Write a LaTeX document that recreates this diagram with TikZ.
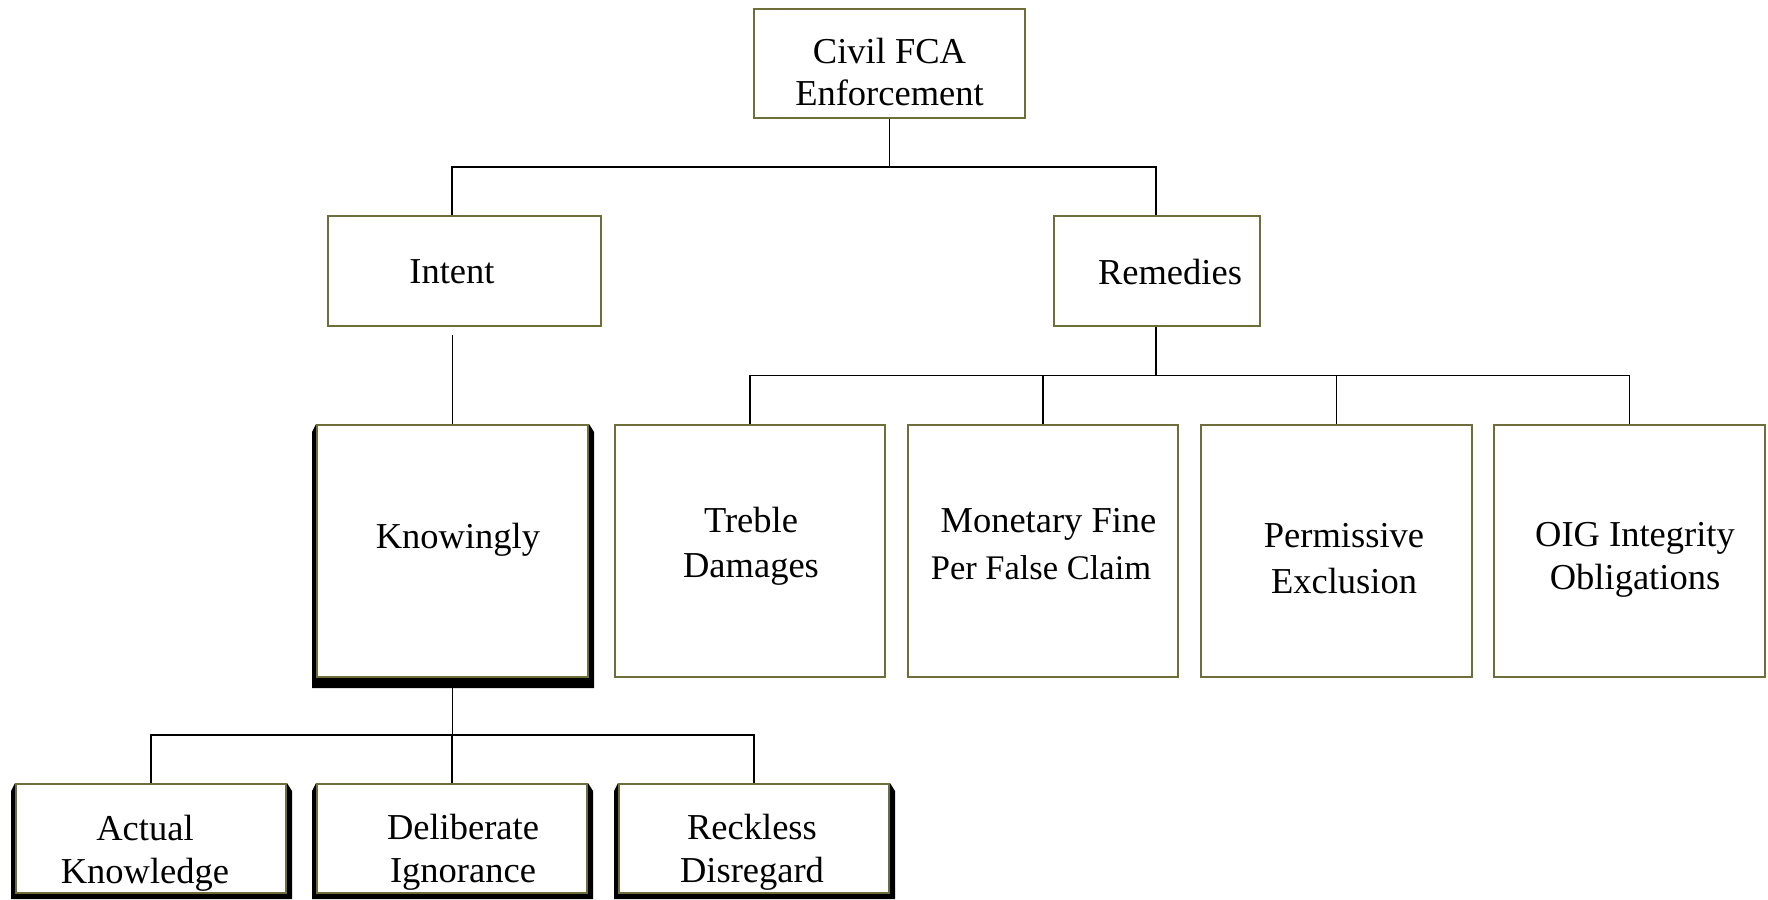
\documentclass[tikz,border=0pt]{standalone}
\usepackage{fontspec}
\setmainfont{Liberation Serif}
\usetikzlibrary{backgrounds}
\definecolor{olivebd}{RGB}{110,110,58}
\newcommand\boxshadow[2]{%
  \fill[black] ([xshift=-4pt,yshift=-8pt]#1.north west) -- (#1.north west) -- (#1.north east)
    -- ([xshift=5pt,yshift=-8pt]#1.north east) -- ([xshift=5pt,yshift=-#2]#1.south east)
    -- ([xshift=-4pt,yshift=-#2]#1.south west) -- cycle;}
\tikzset{
  box/.style={draw=olivebd, line width=2pt, fill=white, inner sep=0pt, rectangle},
  txt/.style={align=center, inner sep=0pt, font=\fontsize{36.5}{43}\selectfont},
  conn/.style={draw=black, line width=1.8pt},
}
\begin{document}
\begin{tikzpicture}[x=1pt,y=-1pt]
\useasboundingbox (0,0) rectangle (1768,899);
% boxes
\node[box, minimum width=271pt, minimum height=109pt] (top) at (889.5,63.5) {};
\node[box, minimum width=273pt, minimum height=110pt] (intent) at (464.5,271) {};
\node[box, minimum width=206pt, minimum height=110pt] (remedies) at (1156.5,271) {};
\node[box, minimum width=271pt, minimum height=252pt] (kn) at (452.5,551) {};
\node[box, minimum width=270pt, minimum height=252pt] (tr) at (750,551) {};
\node[box, minimum width=270pt, minimum height=252pt] (mon) at (1043,551) {};
\node[box, minimum width=271pt, minimum height=252pt] (per) at (1336.5,551) {};
\node[box, minimum width=271pt, minimum height=252pt] (oig) at (1629.5,551) {};
\node[box, minimum width=270pt, minimum height=109pt] (act) at (151,838.5) {};
\node[box, minimum width=270pt, minimum height=109pt] (del) at (452,838.5) {};
\node[box, minimum width=270pt, minimum height=109pt] (rec) at (754,838.5) {};
% shadows
\begin{scope}[on background layer]
  \boxshadow{kn}{10pt}
  \boxshadow{act}{5pt}
  \boxshadow{del}{5pt}
  \boxshadow{rec}{5pt}
\end{scope}
% texts
\node[txt, font=\fontsize{36.5}{42}\selectfont] (topT) at (889.5,72) {Civil FCA\\Enforcement};
\node[txt] (intentT) at (452,272) {Intent};
\node[txt] (remT) at (1170,272) {Remedies};
\node[txt] (knT) at (458,540) {Knowingly};
\node[txt, font=\fontsize{36.5}{45}\selectfont] (trT) at (751,546) {Treble\\Damages};
\node[txt, font=\fontsize{36.5}{47}\selectfont] (monT) at (1041,544) {\hspace*{15pt}Monetary Fine\\{\fontsize{34.5}{47}\selectfont Per False Claim}};
\node[txt, font=\fontsize{36.5}{46}\selectfont] (perT) at (1344,559) {Permissive\\Exclusion};
\node[txt] (oigT) at (1635,560) {OIG Integrity\\Obligations};
\node[txt, font=\fontsize{36.5}{43}\selectfont] (actT) at (145,853) {Actual\\Knowledge};
\node[txt, font=\fontsize{36.5}{43}\selectfont] (delT) at (463,852) {Deliberate\\Ignorance};
\node[txt, font=\fontsize{36.5}{43}\selectfont] (recT) at (752,852) {Reckless\\Disregard};
% junctions
\coordinate (jI) at (452,167);
\coordinate (jR) at (1156,167);
\coordinate (jM) at (1156,375.5);
\coordinate (jK) at (452,735);
% connectors
\draw[conn] (top.south) -- (top.south |- jI);
\draw[conn] (jI |- intent.north) -- (jI) -- (jR) -- (jR |- remedies.north);
\draw[conn] ([yshift=-8pt]intent.south -| kn.north) -- (kn.north);
\draw[conn] (remedies.south -| jM) -- (jM);
\draw[conn] (tr.north) -- (tr.north |- jM) -- (oig.north |- jM) -- (oig.north);
\draw[conn] (mon.north) -- (mon.north |- jM);
\draw[conn] (per.north) -- (per.north |- jM);
\draw[conn] ([yshift=-10pt]kn.south) -- (kn.south |- jK);
\draw[conn] (act.north) -- (act.north |- jK) -- (rec.north |- jK) -- (rec.north);
\draw[conn] (del.north) -- (del.north |- jK);
\end{tikzpicture}
\end{document}
